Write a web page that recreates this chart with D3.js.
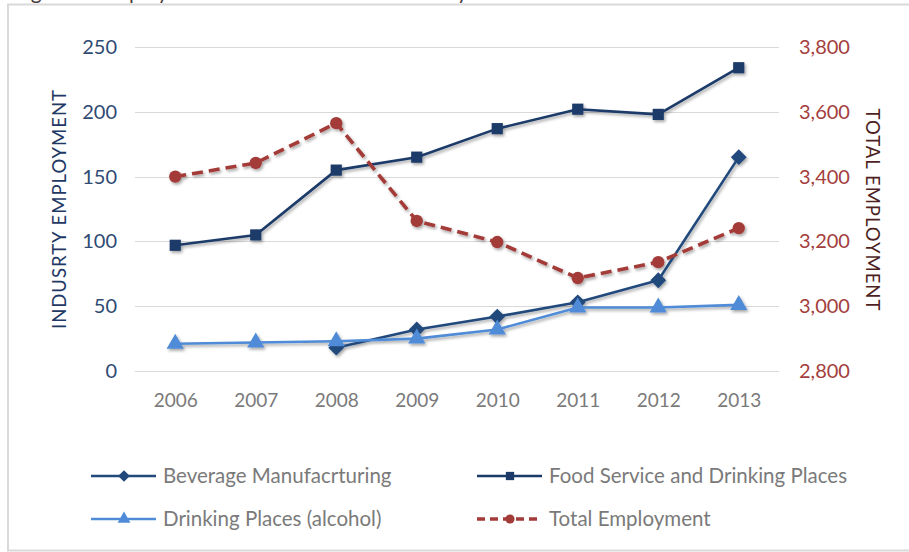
<!DOCTYPE html>
<html>
<head>
<meta charset="utf-8">
<script src="https://cdn.jsdelivr.net/npm/d3@7"></script>
<style>
  html, body { margin: 0; padding: 0; background: #fff; }
  svg { display: block; font-family: Lato, "Open Sans", sans-serif; }
</style>
</head>
<body>
<svg id="chart" width="909" height="552"></svg>
<script>
// Employment by year: three industry series (left axis) and total employment (right axis)
const years = ["2006", "2007", "2008", "2009", "2010", "2011", "2012", "2013"];
const beverageManufacturing = [null, null, 18, 32, 42, 53, 70, 165];
const foodService = [97, 105, 155, 165, 187, 202, 198, 234];
const drinkingPlaces = [21, 22, 23, 25, 32, 49, 49, 51];
const totalEmployment = [3400, 3442, 3565, 3263, 3198, 3087, 3136, 3241];

const leftTicks = [0, 50, 100, 150, 200, 250];
const rightTicks = [2800, 3000, 3200, 3400, 3600, 3800];

const svg = d3.select("#chart");

// drop shadow used by the lines and markers
const defs = svg.append("defs");
const f = defs.append("filter").attr("id", "shadow")
  .attr("x", "-30%").attr("y", "-30%").attr("width", "160%").attr("height", "160%");
f.append("feDropShadow").attr("dx", 1.5).attr("dy", 2).attr("stdDeviation", 1.4)
  .attr("flood-color", "#000").attr("flood-opacity", 0.35);

// title line above the frame (only its lower part falls inside the page)
svg.append("text").attr("x", 14).attr("y", -1)
  .attr("font-size", 21).attr("fill", "#4a3a3a")
  .text("Figure 3: Employment in Alcohol Related Industry");

// outer frame
svg.append("rect").attr("x", 8).attr("y", 4.5).attr("width", 920).attr("height", 546)
  .attr("fill", "#fff").attr("stroke", "#d9d9d9").attr("stroke-width", 2);

const x = d3.scalePoint().domain(years).range([135, 779]).padding(0.5);
const yL = d3.scaleLinear().domain([0, 250]).range([371, 47]);
const yR = d3.scaleLinear().domain([2800, 3800]).range([371, 47]);

// gridlines
svg.append("g").selectAll("line").data(leftTicks).join("line")
  .attr("x1", 135).attr("x2", 779)
  .attr("y1", d => Math.round(yL(d)) + 0.5).attr("y2", d => Math.round(yL(d)) + 0.5)
  .attr("stroke", "#d9d9d9").attr("stroke-width", 1.2);

// left axis
const axL = svg.append("g").attr("transform", "translate(117,0)")
  .call(d3.axisLeft(yL).tickValues(leftTicks).tickSize(0).tickPadding(0));
axL.select(".domain").remove();
axL.selectAll("text").attr("font-size", 20).attr("fill", "#2f4b73")
  .attr("font-family", "Lato, sans-serif");

// right axis
const axR = svg.append("g").attr("transform", "translate(799,0)")
  .call(d3.axisRight(yR).tickValues(rightTicks).tickSize(0).tickPadding(0)
    .tickFormat(d3.format(",")));
axR.select(".domain").remove();
axR.selectAll("text").attr("font-size", 20).attr("fill", "#a3403d")
  .attr("font-family", "Lato, sans-serif");

// bottom axis
const axB = svg.append("g").attr("transform", "translate(0,393)")
  .call(d3.axisBottom(x).tickSize(0).tickPadding(0));
axB.select(".domain").remove();
axB.selectAll("text").attr("font-size", 19).attr("fill", "#7a7a7a")
  .attr("font-family", "Lato, sans-serif");

// axis titles
svg.append("text").attr("transform", "translate(66,209) rotate(-90)")
  .attr("text-anchor", "middle").attr("font-size", 18.5).attr("fill", "#1f3864")
  .attr("letter-spacing", 1).text("INDUSRTY EMPLOYMENT");
svg.append("text").attr("transform", "translate(866,210) rotate(90)")
  .attr("text-anchor", "middle").attr("font-size", 18.5).attr("fill", "#4d1f1f")
  .attr("letter-spacing", 1).text("TOTAL EMPLOYMENT");

// marker shapes; the diamond is a square turned by 45 degrees
const series = [
  { name: "Beverage Manufacrturing", values: beverageManufacturing, y: yL, color: "#22497c", shape: d3.symbolSquare, rot: 45, size: 125, dash: null, width: 2.6 },
  { name: "Food Service and Drinking Places", values: foodService, y: yL, color: "#1b3a68", shape: d3.symbolSquare, rot: 0, size: 125, dash: null, width: 2.6 },
  { name: "Drinking Places (alcohol)", values: drinkingPlaces, y: yL, color: "#4f8bd6", shape: d3.symbolTriangle, rot: 0, size: 130, dash: null, width: 2.6 },
  { name: "Total Employment", values: totalEmployment, y: yR, color: "#a33b38", shape: d3.symbolCircle, rot: 0, size: 120, dash: "11,6", width: 3.6 }
];

const plot = svg.append("g").attr("filter", "url(#shadow)");
series.forEach(s => {
  const pts = years.map((yr, i) => ({ yr, v: s.values[i] }));
  const line = d3.line().defined(d => d.v != null)
    .x(d => x(d.yr)).y(d => s.y(d.v));
  plot.append("path").datum(pts).attr("d", line)
    .attr("fill", "none").attr("stroke", s.color).attr("stroke-width", s.width)
    .attr("stroke-dasharray", s.dash).attr("stroke-linejoin", "round");
  plot.append("g").selectAll("path").data(pts.filter(d => d.v != null)).join("path")
    .attr("d", d3.symbol().type(s.shape).size(s.size))
    .attr("transform", d => `translate(${x(d.yr)},${s.y(d.v)}) rotate(${s.rot})`)
    .attr("fill", s.color);
});

// legend
const legendPos = [
  { lx: 91, ly: 476 }, { lx: 477, ly: 476 },
  { lx: 91, ly: 519 }, { lx: 477, ly: 519 }
];
const legend = svg.append("g");
series.forEach((s, i) => {
  const p = legendPos[i];
  const g = legend.append("g").attr("transform", `translate(${p.lx},${p.ly})`);
  g.append("line").attr("x1", 0).attr("x2", 65).attr("y1", 0).attr("y2", 0)
    .attr("stroke", s.color).attr("stroke-width", s.width)
    .attr("stroke-dasharray", s.dash ? "8,5" : null);
  g.append("path").attr("d", d3.symbol().type(s.shape).size(s.size * 0.55))
    .attr("transform", `translate(33,0) rotate(${s.rot})`).attr("fill", s.color);
  g.append("text").attr("x", 72).attr("y", 0).attr("dy", "0.35em")
    .attr("font-size", 20.5).attr("fill", "#7a7a7a").text(s.name);
});
</script>
</body>
</html>
